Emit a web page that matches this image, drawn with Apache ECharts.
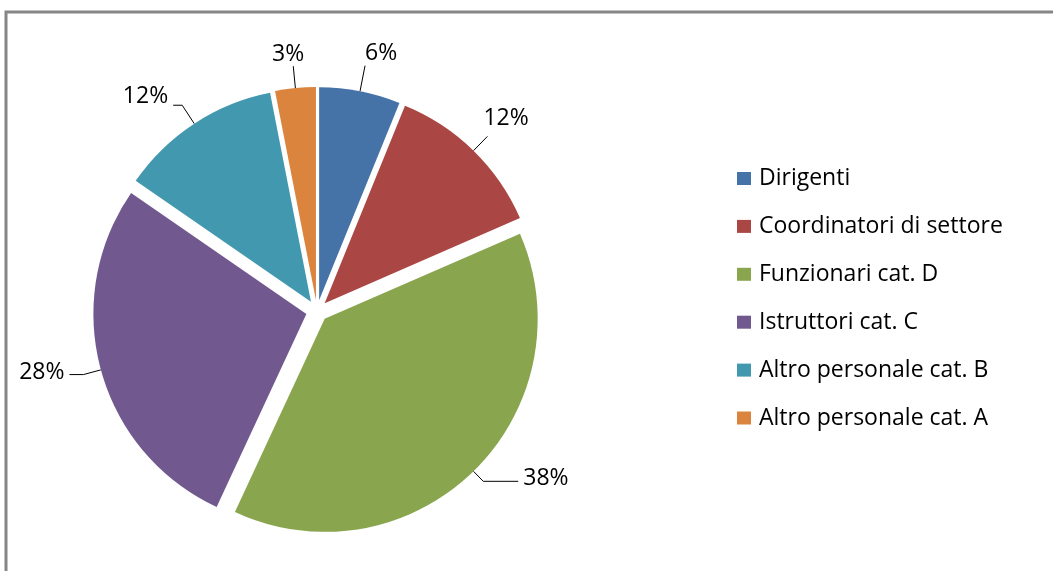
<!DOCTYPE html>
<html>
<head>
<meta charset="utf-8">
<script src="https://cdn.jsdelivr.net/npm/echarts@6/dist/echarts.min.js"></script>
<style>
html,body{margin:0;padding:0;background:#fff;}
#chart{width:1053px;height:571px;}
</style>
</head>
<body>
<div id="chart"></div>
<script>
const categories = ['Dirigenti', 'Coordinatori di settore', 'Funzionari cat. D', 'Istruttori cat. C', 'Altro personale cat. B', 'Altro personale cat. A'];
const values = [4, 8, 25, 18, 8, 2];
const colors = ['#4572A7', '#AA4643', '#89A54E', '#71588F', '#4198AF', '#DB843D'];

// leader-line styling per slice (length, length2, text gap, text raise)
const leaderLen1 = [26, 20, 14, 18, 22, 22];
const leaderLen2 = [0, 0, 35, 14, 9, 0];
const labelGap = [0, -4, 5, 5, 5, -11];
const labelRaise = [24, 36, 6, 5, 17, 24];

const FONT = 'Open Sans';
const rich = {t: {fontFamily: FONT, fontSize: 23, color: '#000', lineHeight: 26}};
labelRaise.forEach((h, i) => { rich['s' + i] = {height: h, lineHeight: h, fontSize: 1}; });

const chart = echarts.init(document.getElementById('chart'), null, {renderer: 'canvas'});
chart.setOption({
  animation: false,
  backgroundColor: '#fff',
  graphic: [{
    type: 'rect',
    shape: {x: 6, y: 12, width: 1100, height: 600},
    style: {fill: 'none', stroke: '#868686', lineWidth: 3},
    silent: true
  }],
  legend: {
    orient: 'vertical',
    left: 737,
    top: 166.5,
    padding: 0,
    icon: 'rect',
    itemWidth: 14,
    itemHeight: 13,
    itemGap: 23.9,
    selectedMode: false,
    textStyle: {fontFamily: FONT, fontSize: 23, color: '#000', lineHeight: 24, padding: [0, 0, 0, 3]},
    data: categories
  },
  series: [{
    type: 'pie',
    center: [317, 311],
    radius: 213,
    startAngle: 90,
    clockwise: true,
    selectedMode: 'multiple',
    selectedOffset: 11,
    avoidLabelOverlap: false,
    itemStyle: {borderWidth: 0},
    label: {
      show: true,
      position: 'outside',
      fontFamily: FONT,
      fontSize: 23,
      color: '#000',
      rich: rich,
      formatter: p => '{t|' + Math.round(p.percent) + '%}\n{s' + p.dataIndex + '|}'
    },
    labelLine: {show: true, lineStyle: {color: '#000', width: 1}},
    emphasis: {disabled: true},
    data: categories.map((c, i) => ({
      name: c,
      value: values[i],
      selected: true,
      itemStyle: {color: colors[i]},
      label: {distanceToLabelLine: labelGap[i]},
      labelLine: {length: leaderLen1[i], length2: leaderLen2[i]}
    }))
  }]
});
</script>
</body>
</html>
